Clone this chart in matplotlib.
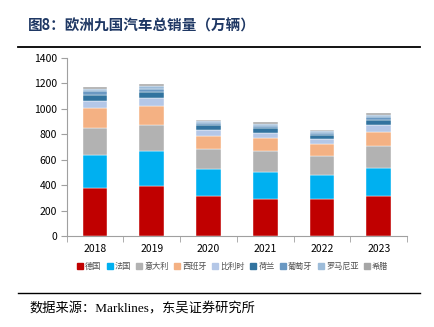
import numpy as np
import matplotlib
matplotlib.use("Agg")
import matplotlib.pyplot as plt
from matplotlib.lines import Line2D

plt.rcParams["font.family"] = ["Noto Sans CJK SC", "DejaVu Sans"]

years = ["2018", "2019", "2020", "2021", "2022", "2023"]
countries = ["德国", "法国", "意大利", "西班牙", "比利时", "荷兰", "葡萄牙", "罗马尼亚", "希腊"]

# sales per country, 万辆
germany = [374, 392, 318, 290, 290, 313]
france = [265, 276, 211, 215, 189, 221]
italy = [211, 205, 155, 163, 147, 174]
spain = [155, 153, 100, 100, 95, 113]
belgium = [60, 63, 50, 45, 42, 52]
netherlands = [47, 42, 39, 34, 31, 40]
portugal = [27, 27, 16, 18, 17, 22]
romania = [18, 20, 12, 16, 14, 18]
greece = [14, 16, 9, 13, 11, 15]

series = [germany, france, italy, spain, belgium, netherlands, portugal, romania, greece]
colors = ["#C00000", "#00B0F0", "#B2B2B2", "#F4B183", "#B4C7E7",
          "#31739F", "#6A98C2", "#9DBCD9", "#A6A6A6"]

fig = plt.figure(figsize=(4.34, 3.27), dpi=100)
ax = fig.add_axes([0.1537, 0.2783, 0.7843, 0.5443])

x = np.arange(len(years))
bottom = np.zeros(len(years))
for vals, c, name in zip(series, colors, countries):
    ax.bar(x, vals, width=0.435, bottom=bottom, color=c, label=name,
           edgecolor="white", linewidth=0.3)
    bottom += np.array(vals)

ax.set_xlim(-0.5, len(years) - 0.5)
ax.set_ylim(0, 1400)
ax.set_yticks(range(0, 1401, 200))
ax.set_xticks(x)
ax.set_xticklabels(years)
ax.set_xticks(np.arange(-0.5, len(years), 1.0), minor=True)
ax.tick_params(axis="x", which="major", length=0, labelsize=7.5, pad=6)
ax.tick_params(axis="x", which="minor", length=4, direction="out", color="#A0A0A0")
ax.tick_params(axis="y", length=4, color="#A0A0A0", labelsize=7.5, pad=3)
for s in ["top", "right"]:
    ax.spines[s].set_visible(False)
for s in ["left", "bottom"]:
    ax.spines[s].set_color("#A0A0A0")
    ax.spines[s].set_linewidth(0.8)

# legend
handles = [Line2D([], [], marker="s", linestyle="none", markersize=4.2,
                  markerfacecolor=c, markeredgecolor=c) for c in colors]
fig.legend(handles, countries, loc="center", bbox_to_anchor=(0.535, 0.186),
           ncol=9, frameon=False, fontsize=5.9, handletextpad=0.2,
           columnspacing=0.55, handlelength=0.9, labelcolor="#505050")

# title and source
fig.text(0.064, 0.923, "图8：欧洲九国汽车总销量（万辆）", fontsize=10.5,
         fontweight="bold", color="#1F3864", va="center")
fig.add_artist(Line2D([0.042, 0.968], [0.856, 0.856], color="black", lw=1.3))
fig.add_artist(Line2D([0.042, 0.968], [0.104, 0.104], color="black", lw=1.0))
fig.text(0.069, 0.055, "数据来源：Marklines，东吴证券研究所", fontsize=9.5,
         color="black", va="center",
         family=["Liberation Serif", "Noto Sans CJK SC"])

fig.savefig("out.png", dpi=100)
